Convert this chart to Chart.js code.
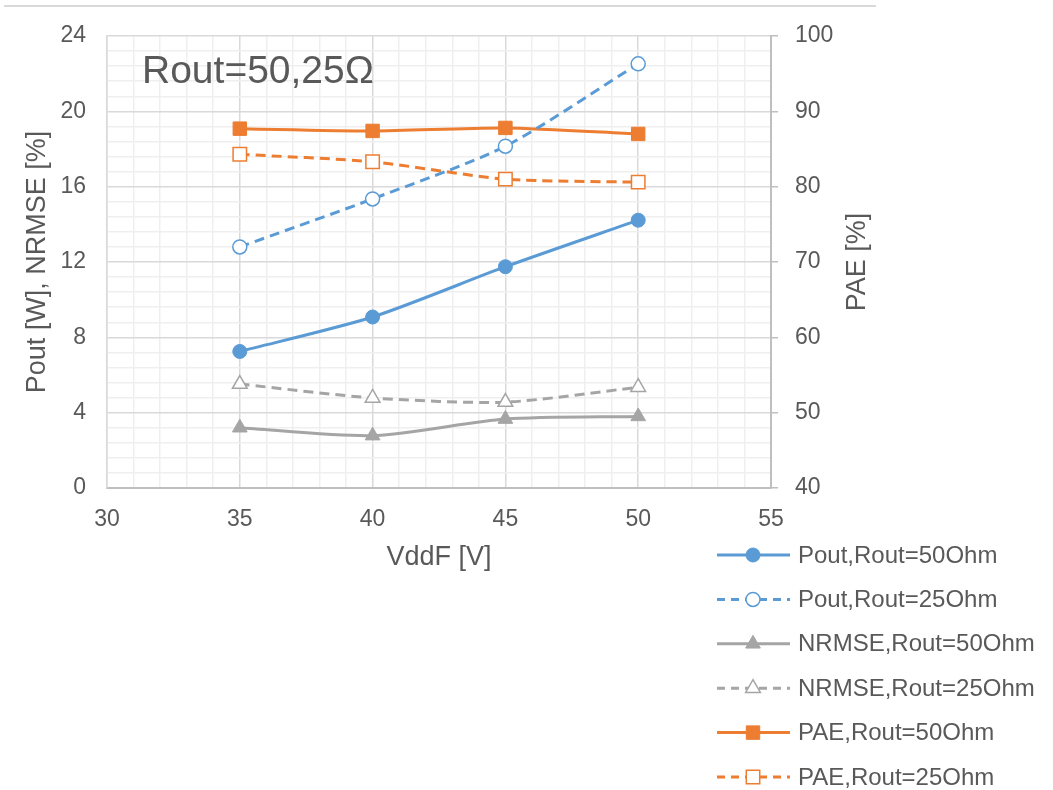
<!DOCTYPE html>
<html lang="en">
<head>
    <meta charset="UTF-8">
    <title>Pout / NRMSE / PAE vs VddF</title>
    <script src="https://cdn.jsdelivr.net/npm/chart.js"></script>
    <style>
        html, body { margin: 0; padding: 0; background: #ffffff; }
        #wrap { width: 1053px; height: 790px; position: relative; }
    </style>
</head>
<body>
    <div id="wrap">
        <canvas id="chart" width="1053" height="790"></canvas>
    </div>

    <script>
        // Data
        const vddF = [35, 40, 45, 50];
        const pout50 = [7.25, 9.08, 11.75, 14.22];
        const pout25 = [12.8, 15.35, 18.15, 22.52];
        const nrmse50 = [3.2, 2.78, 3.66, 3.8];
        const nrmse25 = [5.52, 4.78, 4.56, 5.35];
        const pae50 = [87.7, 87.4, 87.8, 87.0];
        const pae25 = [84.3, 83.3, 81.0, 80.6];

        const seriesLabels = [
            'Pout,Rout=50Ohm', 'Pout,Rout=25Ohm',
            'NRMSE,Rout=50Ohm', 'NRMSE,Rout=25Ohm',
            'PAE,Rout=50Ohm', 'PAE,Rout=25Ohm'
        ];

        const BLUE = '#5b9bd5';
        const GRAY = '#a5a5a5';
        const ORANGE = '#ed7d31';
        const TEXT = '#595959';
        const FONT = "'Liberation Sans', Arial, sans-serif";
        const DASH = [10, 6];
        const SIZES = { circle: 7, triangle: 8.5, rect: 9.5 };

        function pts(ys) {
            return vddF.map((x, i) => ({ x: x, y: ys[i] }));
        }

        function series(label, ys, color, style, open, dashed, axis) {
            return {
                label: label,
                data: pts(ys),
                yAxisID: axis,
                borderColor: color,
                borderWidth: 3,
                borderDash: dashed ? DASH : [],
                backgroundColor: color,
                pointStyle: style,
                pointRadius: SIZES[style],
                pointBackgroundColor: open ? '#ffffff' : color,
                pointBorderColor: color,
                pointBorderWidth: open ? 1.5 : 1,
                tension: 0.25,
                fill: false
            };
        }

        const datasets = [
            series(seriesLabels[0], pout50, BLUE, 'circle', false, false, 'yL'),
            series(seriesLabels[1], pout25, BLUE, 'circle', true, true, 'yL'),
            series(seriesLabels[2], nrmse50, GRAY, 'triangle', false, false, 'yL'),
            series(seriesLabels[3], nrmse25, GRAY, 'triangle', true, true, 'yL'),
            series(seriesLabels[4], pae50, ORANGE, 'rect', false, false, 'yR'),
            series(seriesLabels[5], pae25, ORANGE, 'rect', true, true, 'yR')
        ];

        function isMult(v, m) {
            return Math.abs(v / m - Math.round(v / m)) < 1e-6;
        }

        // legend, annotation, right title and outer frame line
        const extras = {
            id: 'extras',
            afterDraw(chart) {
                const ctx = chart.ctx;
                const area = chart.chartArea;
                ctx.save();

                // top frame line
                ctx.strokeStyle = '#d9d9d9';
                ctx.lineWidth = 2;
                ctx.beginPath();
                ctx.moveTo(4, 6);
                ctx.lineTo(876, 6);
                ctx.stroke();

                // annotation
                ctx.fillStyle = TEXT;
                ctx.font = '39px ' + FONT;
                ctx.textBaseline = 'middle';
                ctx.textAlign = 'left';
                ctx.fillText('Rout=50,25\u03A9', 142, 72);

                // right axis title, reading bottom to top
                ctx.save();
                ctx.translate(858, (area.top + area.bottom) / 2);
                ctx.rotate(-Math.PI / 2);
                ctx.textAlign = 'center';
                ctx.font = '27px ' + FONT;
                ctx.fillText('PAE [%]', 0, 0);
                ctx.restore();

                // legend
                const x0 = 717, x1 = 790, mx = 753;
                chart.data.datasets.forEach((ds, i) => {
                    const y = 555 + i * 44.4;
                    ctx.strokeStyle = ds.borderColor;
                    ctx.lineWidth = 3;
                    ctx.setLineDash(ds.borderDash.length ? [8, 6] : []);
                    ctx.beginPath();
                    ctx.moveTo(x0, y);
                    ctx.lineTo(x1, y);
                    ctx.stroke();
                    ctx.setLineDash([]);
                    ctx.fillStyle = ds.pointBackgroundColor;
                    ctx.strokeStyle = ds.pointBorderColor;
                    ctx.lineWidth = ds.pointBorderWidth;
                    Chart.helpers.drawPoint(ctx, {
                        pointStyle: ds.pointStyle,
                        radius: ds.pointRadius,
                        rotation: 0,
                        borderWidth: ds.pointBorderWidth
                    }, mx, y);
                    ctx.fillStyle = TEXT;
                    ctx.font = '24px ' + FONT;
                    ctx.textAlign = 'left';
                    ctx.fillText(ds.label, 798, y + 1);
                });
                ctx.restore();
            }
        };

        new Chart(document.getElementById('chart'), {
            type: 'line',
            data: { datasets: datasets },
            options: {
                responsive: false,
                animation: false,
                layout: { padding: { left: 0, top: 36, right: 182, bottom: 216 } },
                plugins: {
                    legend: { display: false },
                    tooltip: { enabled: false }
                },
                scales: {
                    x: {
                        type: 'linear',
                        min: 30,
                        max: 55,
                        afterFit(scale) { scale.height = 86; },
                        ticks: {
                            stepSize: 1,
                            autoSkip: false,
                            maxRotation: 0,
                            padding: 18,
                            color: TEXT,
                            font: { family: FONT, size: 23 },
                            callback: v => isMult(v, 5) ? String(v) : ''
                        },
                        grid: {
                            drawTicks: false,
                            color: ctx => isMult(ctx.tick.value, 5) ? '#d9d9d9' : '#efefef',
                            lineWidth: 1.5
                        },
                        border: { color: '#bfbfbf', width: 2 },
                        title: {
                            display: true,
                            text: 'VddF [V]',
                            color: TEXT,
                            font: { family: FONT, size: 27 },
                            padding: 0
                        }
                    },
                    yL: {
                        type: 'linear',
                        position: 'left',
                        min: 0,
                        max: 24,
                        afterFit(scale) { scale.width = 107; },
                        ticks: {
                            stepSize: 0.8,
                            autoSkip: false,
                            padding: 21,
                            color: TEXT,
                            font: { family: FONT, size: 23 },
                            callback: v => isMult(v, 4) ? String(Math.round(v)) : ''
                        },
                        grid: {
                            drawTicks: false,
                            color: ctx => isMult(ctx.tick.value, 4) ? '#d9d9d9' : '#efefef',
                            lineWidth: 1.5
                        },
                        border: { color: '#d9d9d9', width: 1.5 },
                        title: {
                            display: true,
                            text: 'Pout [W], NRMSE [%]',
                            color: TEXT,
                            font: { family: FONT, size: 27 },
                            padding: { top: 21, bottom: 0 }
                        }
                    },
                    yR: {
                        type: 'linear',
                        position: 'right',
                        min: 40,
                        max: 100,
                        afterFit(scale) { scale.width = 100; },
                        ticks: {
                            stepSize: 10,
                            padding: 17,
                            color: TEXT,
                            font: { family: FONT, size: 23 }
                        },
                        grid: {
                            drawOnChartArea: false,
                            drawTicks: true,
                            tickLength: 7,
                            color: '#bfbfbf',
                            lineWidth: 1.5
                        },
                        border: { color: '#bfbfbf', width: 2 },
                        title: { display: false }
                    }
                }
            },
            plugins: [extras]
        });
    </script>
</body>
</html>
